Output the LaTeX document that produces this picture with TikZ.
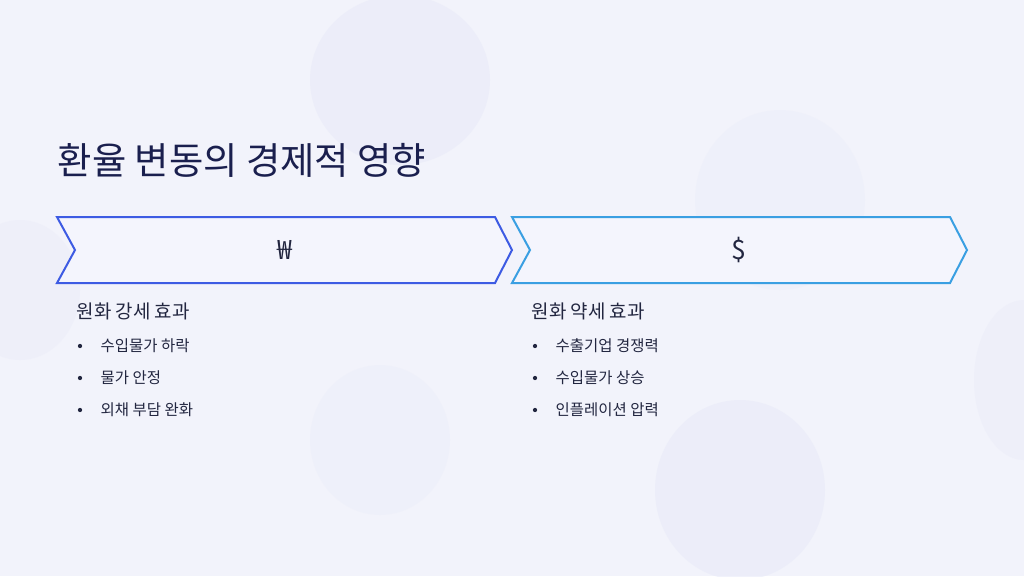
\documentclass[tikz,border=0pt]{standalone}
\usepackage{fontspec}
\newfontfamily\kr{Noto Sans CJK KR}
\definecolor{bg}{HTML}{F2F3FB}
\definecolor{blob}{HTML}{E8EAF8}
\definecolor{navy}{HTML}{1A1F4E}
\definecolor{txt}{HTML}{222640}
\definecolor{cA}{HTML}{3D5BE3}
\definecolor{cB}{HTML}{3A9FE2}
\definecolor{fillc}{HTML}{F4F5FD}
\tikzset{chev/.style={line width=1.5pt,fill=fillc,line join=miter},
 head/.style={anchor=west,font=\kr\fontsize{14.2}{16}\selectfont,text=txt},
 item/.style={anchor=west,font=\kr\fontsize{11.6}{13}\selectfont,text=txt},
 dotb/.style={circle,fill=txt,inner sep=0pt,minimum size=3.2pt}}
\begin{document}
\begin{tikzpicture}[x=0.75pt,y=-0.75pt]
\fill[bg] (0,0) rectangle (1024,576);
\useasboundingbox (0,0) rectangle (1024,576);
\fill[blob,opacity=0.6] (400,80) ellipse (90 and 85);
\fill[blob,opacity=0.3] (780,200) ellipse (85 and 90);
\fill[blob,opacity=0.6] (740,490) ellipse (85 and 90);
\fill[blob,opacity=0.3] (380,440) ellipse (70 and 75);
\fill[blob,opacity=0.4] (20,290) ellipse (60 and 70);
\fill[blob,opacity=0.4] (1024,380) ellipse (50 and 80);
\node[anchor=west,font=\kr\fontsize{28}{32}\selectfont,text=navy] (title) at (53,160) {환율 변동의 경제적 영향};
\draw[chev,draw=cA] (57,217) -- (495,217) -- (512,250) -- (495,283) -- (57,283) -- (75,250) -- cycle;
\draw[chev,draw=cB] (512,217) -- (950,217) -- (967,250) -- (950,283) -- (512,283) -- (530,250) -- cycle;
\node[font=\kr\fontsize{20}{22}\selectfont,text=txt] (won) at (285,250) {₩};
\node[font=\kr\fontsize{20}{22}\selectfont,text=txt] (usd) at (739,250) {\$};
\node[head] (h1) at (72,311) {원화 강세 효과};
\node[head] (h2) at (527,311) {원화 약세 효과};
\foreach \y/\t [count=\i] in {346/수입물가 하락,378/물가 안정,410/외채 부담 완화}{
 \node[dotb] (la\i) at (80,\y) {};
 \node[item] (lt\i) at (96,\y) {\t};}
\foreach \y/\t [count=\i] in {346/수출기업 경쟁력,378/수입물가 상승,410/인플레이션 압력}{
 \node[dotb] (ra\i) at (535,\y) {};
 \node[item] (rt\i) at (551,\y) {\t};}
\end{tikzpicture}
\end{document}
